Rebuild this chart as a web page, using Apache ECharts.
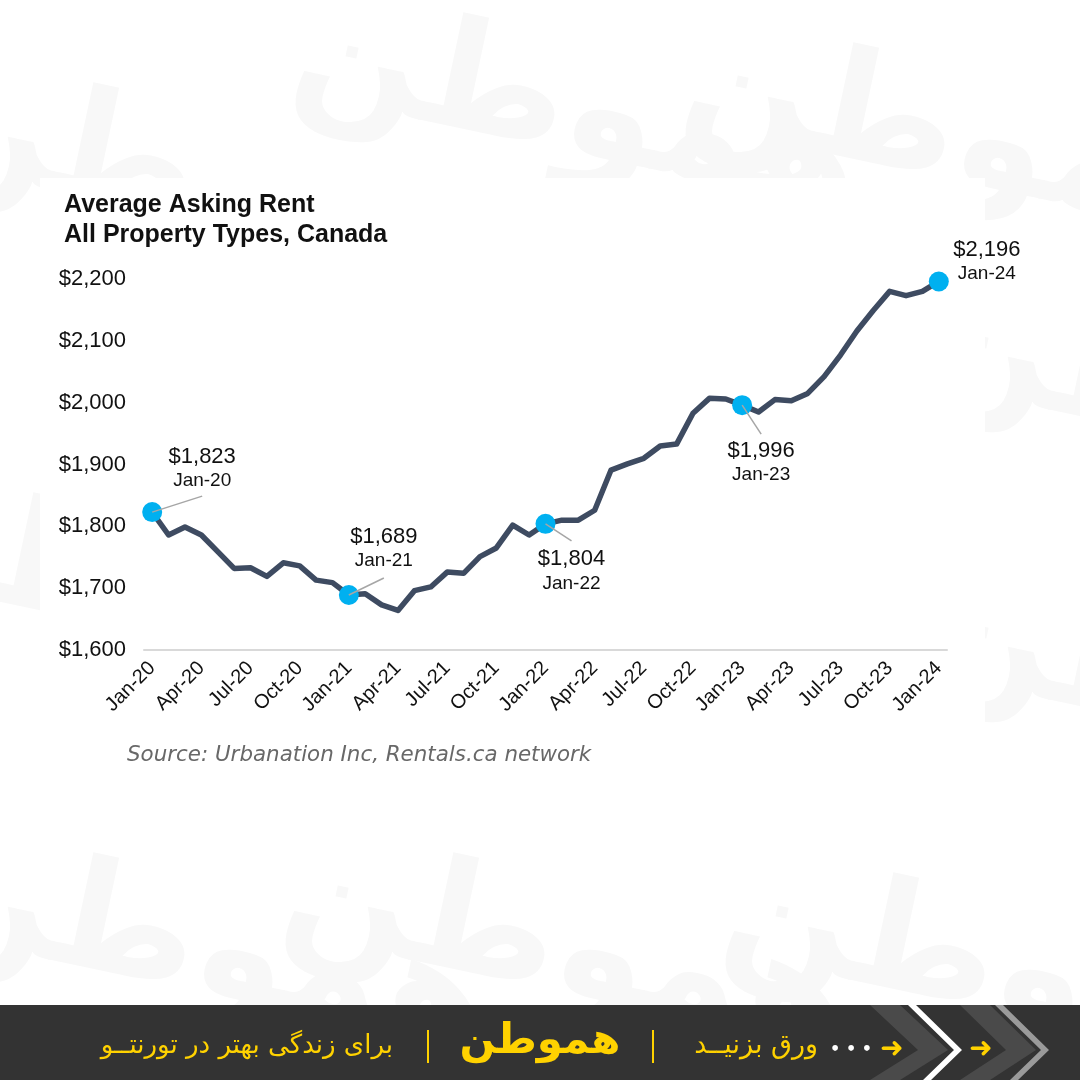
<!DOCTYPE html>
<html>
<head>
<meta charset="utf-8">
<script src="https://cdn.jsdelivr.net/npm/echarts@6/dist/echarts.min.js"></script>
<style>
html,body{margin:0;padding:0;background:#ffffff;}
#chart{width:1080px;height:1080px;}
</style>
</head>
<body>
<div id="chart"></div>
<script>
// ---- data ----
const months = [
  'Jan-20','Feb-20','Mar-20','Apr-20','May-20','Jun-20','Jul-20','Aug-20','Sep-20','Oct-20','Nov-20','Dec-20',
  'Jan-21','Feb-21','Mar-21','Apr-21','May-21','Jun-21','Jul-21','Aug-21','Sep-21','Oct-21','Nov-21','Dec-21',
  'Jan-22','Feb-22','Mar-22','Apr-22','May-22','Jun-22','Jul-22','Aug-22','Sep-22','Oct-22','Nov-22','Dec-22',
  'Jan-23','Feb-23','Mar-23','Apr-23','May-23','Jun-23','Jul-23','Aug-23','Sep-23','Oct-23','Nov-23','Dec-23',
  'Jan-24'
];
const rent = [
  1823,1786,1799,1786,1759,1732,1733,1719,1741,1736,1713,1709,
  1689,1691,1673,1664,1696,1702,1726,1724,1751,1765,1802,1786,
  1804,1810,1810,1826,1891,1901,1910,1930,1933,1983,2007,2006,
  1996,1985,2005,2003,2015,2042,2077,2116,2149,2180,2173,2180,
  2196
];
const highlightIdx = [0, 12, 24, 36, 48];
const highlightVal = [1823, 1689, 1804, 1996, 2196];
const yTicks = [1600, 1700, 1800, 1900, 2000, 2100, 2200];
const titleLines = ['Average Asking Rent', 'All Property Types, Canada'];
const sourceText = 'Source: Urbanation Inc, Rentals.ca network';
const bannerLeft = 'برای زندگی بهتر در تورنتــو';
const bannerLogo = 'هموطن';
const bannerRight = 'ورق بزنیــد';

// ---- styles / layout (not data) ----
const annOffsets = {
  0:  {line:[50,-16], val:[50,-55], date:[50,-31]},
  12: {line:[35,-17], val:[35,-58], date:[35,-34]},
  24: {line:[26,17],  val:[26,35],  date:[26,60]},
  36: {line:[19,29],  val:[19,46],  date:[19,70]},
  48: {line:null,     val:[48,-32], date:[48,-8]}
};
const fmtMoney = v => '$' + v.toLocaleString('en-US');

const chart = echarts.init(document.getElementById('chart'), null, {renderer:'canvas'});

const wm = [];
const wmPos = [[430,40],[820,70],[60,110],[1060,330],[0,520],[1060,620],[420,880],[860,900],[60,880]];
wmPos.forEach(p => wm.push({
  type:'text', left:p[0]-150, top:p[1]-60, z:-10, rotation:-12*Math.PI/180,
  style:{text:bannerLogo, font:'bold 150px "DejaVu Sans"', fill:'#f8f8f8'}
}));

const option = {
  backgroundColor:'#ffffff',
  animation:false,
  grid:{left:144, right:133, top:279, bottom:430, containLabel:false},
  xAxis:{
    type:'category', data:months, boundaryGap:true,
    axisLine:{show:true, lineStyle:{color:'#d9d9d9', width:2}},
    axisTick:{show:false},
    axisLabel:{interval:2, rotate:45, fontSize:20, color:'#111', fontFamily:'Liberation Sans, Arial', margin:15}
  },
  yAxis:{
    type:'value', min:yTicks[0], max:yTicks[yTicks.length-1], interval:100,
    splitLine:{show:false}, axisLine:{show:false}, axisTick:{show:false},
    axisLabel:{fontSize:22, color:'#111', fontFamily:'Liberation Sans, Arial', margin:18, formatter:v => fmtMoney(v)}
  },
  graphic: wm.concat([
    {type:'rect', left:40, top:178, z:-5, shape:{width:945, height:612}, style:{fill:'#ffffff'}},
    {type:'text', left:64, top:193, z:10, style:{text:titleLines[0], font:'bold 25px "Liberation Sans", Arial', fill:'#111'}},
    {type:'text', left:64, top:223, z:10, style:{text:titleLines[1], font:'bold 25px "Liberation Sans", Arial', fill:'#111'}},
    {type:'text', left:127, top:745, z:10, style:{text:sourceText, font:'oblique 21.4px "DejaVu Sans", sans-serif', fill:'#686868'}},
    // banner
    {type:'rect', left:0, top:1005, z:20, shape:{width:1080, height:75}, style:{fill:'#333333'}},
    {type:'polygon', z:21, shape:{points:[[870,1005],[900,1005],[948,1050],[900,1080],[870,1080],[918,1050]]}, style:{fill:'#4a4a4a'}},
    {type:'polygon', z:22, shape:{points:[[908,1005],[916,1005],[962,1050],[931,1080],[923,1080],[954,1050]]}, style:{fill:'#ffffff'}},
    {type:'polygon', z:21, shape:{points:[[960,1005],[990,1005],[1036,1050],[990,1080],[960,1080],[1006,1050]]}, style:{fill:'#4a4a4a'}},
    {type:'polygon', z:22, shape:{points:[[995,1005],[1003,1005],[1049,1050],[1018,1080],[1010,1080],[1041,1050]]}, style:{fill:'#9a9a9a'}},
    {type:'text', z:23, style:{x:892, y:1050, text:'➜', font:'bold 28px "DejaVu Sans"', fill:'#ffd200', align:'center', verticalAlign:'middle'}},
    {type:'text', z:23, style:{x:981, y:1050, text:'➜', font:'bold 28px "DejaVu Sans"', fill:'#ffd200', align:'center', verticalAlign:'middle'}},
    {type:'text', z:23, style:{x:851, y:1050, text:'• • •', font:'bold 16px "DejaVu Sans"', fill:'#ffffff', align:'center', verticalAlign:'middle'}},
    {type:'text', z:23, style:{x:818, y:1046, text:bannerRight, font:'27px "DejaVu Sans"', fill:'#ffd200', align:'right', verticalAlign:'middle'}},
    {type:'rect', z:23, left:652, top:1030, shape:{width:2, height:33}, style:{fill:'#ffd200'}},
    {type:'text', z:23, style:{x:540, y:1042, text:bannerLogo, font:'bold 42px "DejaVu Sans"', fill:'#ffd200', align:'center', verticalAlign:'middle'}},
    {type:'rect', z:23, left:427, top:1030, shape:{width:2, height:33}, style:{fill:'#ffd200'}},
    {type:'text', z:23, style:{x:393, y:1046, text:bannerLeft, font:'26px "DejaVu Sans"', fill:'#ffd200', align:'right', verticalAlign:'middle'}}
  ]),
  series:[
    {
      type:'line', data:rent, symbol:'none', z:3,
      lineStyle:{color:'#3e4b61', width:5.5, join:'round'}
    },
    {
      type:'custom', z:5,
      data: highlightIdx.map((d,i)=>[d, highlightVal[i]]),
      renderItem:(params, api) => {
        const idx = api.value(0), val = api.value(1);
        const p = api.coord([idx, val]);
        const o = annOffsets[idx];
        const children = [
          {type:'circle', shape:{cx:p[0], cy:p[1], r:10}, style:{fill:'#00b0f0'}}
        ];
        if (o.line) children.push({type:'line', shape:{x1:p[0], y1:p[1], x2:p[0]+o.line[0], y2:p[1]+o.line[1]}, style:{stroke:'#a6a6a6', lineWidth:1.5}});
        children.push({type:'text', style:{x:p[0]+o.val[0], y:p[1]+o.val[1], text:fmtMoney(val), font:'22px "Liberation Sans", Arial', fill:'#111', align:'center', verticalAlign:'middle'}});
        children.push({type:'text', style:{x:p[0]+o.date[0], y:p[1]+o.date[1], text:months[idx], font:'19px "Liberation Sans", Arial', fill:'#111', align:'center', verticalAlign:'middle'}});
        return {type:'group', children};
      }
    }
  ]
};
chart.setOption(option);
</script>
</body>
</html>
